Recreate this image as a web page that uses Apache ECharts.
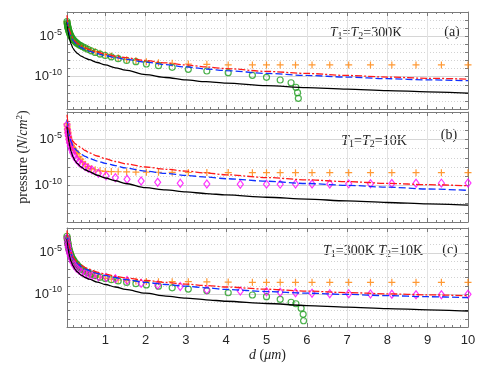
<!DOCTYPE html>
<html>
<head>
<meta charset="utf-8">
<script src="https://cdn.jsdelivr.net/npm/echarts@6/dist/echarts.min.js"></script>
<style>
  html, body { margin: 0; background: #fff; }
  #main { width: 491px; height: 366px; }
</style>
</head>
<body>
<div id="main"></div>
<script>
// separations d (um) for the curves and for the markers
var dLine = [0.05, 0.06, 0.07, 0.08, 0.1, 0.12, 0.15, 0.2, 0.25, 0.3, 0.4, 0.5, 0.6, 0.8, 1, 1.25, 1.5, 2, 2.5, 3, 3.5, 4, 5, 6, 7, 8, 9, 10];
var dMark = [0.05, 0.055, 0.06, 0.065, 0.07, 0.075, 0.08, 0.09, 0.1, 0.11, 0.12, 0.13, 0.145, 0.16, 0.18, 0.2, 0.22, 0.25, 0.28, 0.31,
  0.35, 0.39, 0.44, 0.5, 0.57, 0.65, 0.75, 0.87, 1.0, 1.15, 1.32, 1.53, 1.76, 2.02, 2.32, 2.66, 3.06, 3.52, 4.05, 4.65,
  5.0, 5.34, 5.72, 6.13, 6.57, 7.04, 7.58, 8.11, 8.71, 9.34, 10.0];
var dCircleA = dMark.slice(0, 42).concat([5.61, 5.73, 5.77, 5.79]);
var dCircleC = dMark.slice(0, 42).concat([5.61, 5.73, 5.86, 5.91, 5.92]);
var dDia = [0.05, 0.06, 0.07, 0.08, 0.095, 0.11, 0.13, 0.16, 0.19, 0.23, 0.28, 0.34, 0.41, 0.5, 0.58, 0.67, 0.83, 1.02, 1.25, 1.54,
  1.89, 2.30, 2.86, 3.52, 4.35, 5.0, 5.34, 5.72, 6.13, 6.57, 7.04, 7.58, 8.11, 8.71, 9.34, 10.0];

// log10 of pressure (N/cm^2)
// (a) T1=T2=300K
var aBlack = [-3.2, -3.7, -4.1, -4.45, -5.0, -5.45, -5.95, -6.5, -6.85, -7.1, -7.45, -7.7, -7.9, -8.25, -8.55, -8.9, -9.2, -9.75, -10.1, -10.4, -10.62, -10.8, -11.1, -11.35, -11.55, -11.72, -11.88, -12.03];
var aBlue = [-2.9, -3.2, -3.5, -3.8, -4.3, -4.65, -5.05, -5.5, -5.8, -6.05, -6.4, -6.65, -6.85, -7.15, -7.4, -7.65, -7.85, -8.2, -8.52, -8.8, -9.05, -9.25, -9.6, -9.85, -10.05, -10.25, -10.4, -10.5];
var aRed = [-2.4, -2.9, -3.3, -3.6, -4.05, -4.4, -4.8, -5.25, -5.6, -5.85, -6.2, -6.45, -6.65, -6.95, -7.2, -7.45, -7.65, -8.0, -8.3, -8.55, -8.8, -9.0, -9.35, -9.6, -9.85, -10.05, -10.2, -10.3];
var aPlus = [-3.2, -3.4, -3.55, -3.7, -3.85, -3.95, -4.05, -4.25, -4.4, -4.55, -4.7, -4.8, -4.95, -5.1, -5.25, -5.4, -5.5, -5.65, -5.8, -5.9,
  -6.05, -6.15, -6.3, -6.45, -6.6, -6.75, -6.9, -7.1, -7.3, -7.45, -7.65, -7.9, -8.0, -8.15, -8.27, -8.34, -8.43, -8.47, -8.55, -8.55,
  -8.55, -8.55, -8.55, -8.55, -8.55, -8.55, -8.55, -8.55, -8.55, -8.55, -8.55];
var aCircle = [-3.2, -3.4, -3.55, -3.7, -3.85, -3.95, -4.05, -4.25, -4.4, -4.55, -4.7, -4.8, -4.95, -5.1, -5.25, -5.4, -5.5, -5.65, -5.8, -5.9,
  -6.05, -6.15, -6.3, -6.45, -6.62, -6.8, -7.0, -7.2, -7.38, -7.55, -7.77, -8.0, -8.15, -8.43, -8.64, -8.84, -9.09, -9.3, -9.51, -9.83,
  -10.08, -10.41, -10.75, -11.31, -11.98, -12.68];

// (b) T1=T2=10K
var bBlack = [-3.6, -4.0, -4.4, -4.75, -5.3, -5.75, -6.3, -6.9, -7.3, -7.6, -8.0, -8.3, -8.5, -8.9, -9.2, -9.5, -9.8, -10.25, -10.5, -10.72, -10.9, -11.05, -11.3, -11.5, -11.7, -11.87, -12.02, -12.15];
var bBlue = [-2.8, -3.2, -3.55, -3.85, -4.35, -4.75, -5.2, -5.7, -6.0, -6.25, -6.6, -6.85, -7.05, -7.35, -7.6, -7.85, -8.1, -8.45, -8.7, -8.92, -9.1, -9.28, -9.55, -9.8, -10.0, -10.2, -10.4, -10.55];
var bRed = [-2.3, -2.7, -3.1, -3.4, -3.9, -4.3, -4.8, -5.2, -5.45, -5.6, -5.9, -6.2, -6.45, -6.8, -7.1, -7.4, -7.65, -8.0, -8.25, -8.45, -8.65, -8.85, -9.15, -9.4, -9.6, -9.78, -9.93, -10.05];
var bPlus = [-3.3, -3.55, -3.75, -3.95, -4.1, -4.25, -4.4, -4.65, -4.85, -5.05, -5.2, -5.35, -5.5, -5.65, -5.8, -5.9, -6.05, -6.2, -6.4, -6.55,
  -6.9, -7.15, -7.45, -7.7, -7.95, -8.15, -8.3, -8.42, -8.48, -8.5, -8.52, -8.53, -8.55, -8.56, -8.57, -8.58, -8.6, -8.6, -8.61, -8.62,
  -8.62, -8.62, -8.62, -8.62, -8.62, -8.62, -8.62, -8.62, -8.62, -8.62, -8.62];
var bDia = [-3.4, -3.9, -4.3, -4.6, -5.0, -5.35, -5.7, -6.1, -6.45, -6.8, -7.15, -7.45, -7.7, -7.95, -8.15, -8.33, -8.69, -8.95, -9.17, -9.34,
  -9.53, -9.67, -9.78, -9.86, -9.89, -9.87, -9.87, -9.86, -9.86, -9.85, -9.84, -9.82, -9.8, -9.78, -9.76, -9.75];

// (c) T1=300K T2=10K
var cBlack = [-3.3, -3.8, -4.2, -4.55, -5.1, -5.55, -6.05, -6.6, -7.0, -7.3, -7.7, -8.0, -8.2, -8.55, -8.85, -9.15, -9.45, -9.9, -10.25, -10.5, -10.7, -10.88, -11.15, -11.4, -11.6, -11.77, -11.92, -12.06];
var cBlue = [-2.8, -3.15, -3.5, -3.8, -4.3, -4.7, -5.15, -5.65, -6.0, -6.25, -6.65, -6.95, -7.15, -7.5, -7.75, -8.0, -8.25, -8.6, -8.85, -9.05, -9.25, -9.45, -9.7, -9.9, -10.05, -10.2, -10.33, -10.45];
var cRed = [-2.3, -2.8, -3.2, -3.55, -4.1, -4.5, -5.0, -5.5, -5.85, -6.1, -6.5, -6.8, -7.0, -7.35, -7.6, -7.85, -8.05, -8.35, -8.6, -8.8, -8.98, -9.15, -9.42, -9.65, -9.83, -9.98, -10.1, -10.21];
var cPlus = [-3.0, -3.25, -3.45, -3.65, -3.8, -3.95, -4.1, -4.35, -4.55, -4.75, -4.9, -5.05, -5.25, -5.45, -5.65, -5.8, -5.95, -6.15, -6.35, -6.5,
  -6.7, -6.85, -7.05, -7.25, -7.45, -7.6, -7.8, -7.95, -8.1, -8.2, -8.3, -8.38, -8.45, -8.48, -8.51, -8.5, -8.5, -8.52, -8.55, -8.58,
  -8.58, -8.58, -8.58, -8.58, -8.58, -8.58, -8.58, -8.58, -8.58, -8.58, -8.58];
var cCircle = [-3.0, -3.25, -3.45, -3.65, -3.8, -3.95, -4.1, -4.35, -4.55, -4.75, -4.9, -5.05, -5.25, -5.45, -5.65, -5.8, -5.95, -6.15, -6.35, -6.5,
  -6.7, -6.85, -7.05, -7.25, -7.42, -7.58, -7.78, -7.97, -8.12, -8.27, -8.42, -8.6, -8.75, -8.9, -9.05, -9.25, -9.4, -9.6, -9.85, -10.12,
  -10.33, -10.64, -11.0, -11.18, -11.73, -12.46, -13.24];
var cDia = [-3.2, -3.7, -4.05, -4.35, -4.75, -5.05, -5.4, -5.8, -6.15, -6.5, -6.85, -7.1, -7.35, -7.55, -7.7, -7.8, -7.9, -8.0, -8.15, -8.35,
  -8.7, -8.9, -9.1, -9.5, -9.65, -9.72, -9.78, -9.84, -9.9, -9.96, -9.98, -10.0, -10.04, -10.08, -10.09, -10.04];

var yTicksShown = [-5, -10];
var panelText = ['{i|T}{s|1}={i|T}{s|2}=300K', '{i|T}{s|1}={i|T}{s|2}=10K', '{i|T}{s|1}=300K {i|T}{s|2}=10K'];
var panelTag = ['(a)', '(b)', '(c)'];

var AX = '#7a7a7a';
var SANS = 'Liberation Sans';
var SERIF = 'Liberation Serif';

var grids = [
  { left: 67, width: 401, top: 12, height: 97 },
  { left: 67, width: 401, top: 112, height: 110 },
  { left: 67, width: 401, top: 228, height: 99 }
];

function zip(xs, ys) {
  return xs.map(function (x, i) { return [x, ys[i]]; });
}

var xAxes = [], yAxes = [], series = [];
// solid major grid only at the labelled decades (ticks -14..-2)
var majorColors = [];
for (var k = -14; k <= -2; k++) {
  majorColors.push(yTicksShown.indexOf(k) >= 0 ? '#d6d6d6' : 'rgba(0,0,0,0)');
}

grids.forEach(function (g, i) {
  ['bottom', 'top'].forEach(function (pos) {
    xAxes.push({
      type: 'value', gridIndex: i, position: pos, min: 0.05, max: 10, splitNumber: 10,
      axisLine: { lineStyle: { color: AX, width: 1 } },
      axisTick: { inside: true, length: 4, lineStyle: { color: AX } },
      minorTick: { show: true, splitNumber: 5, length: 2, lineStyle: { color: AX } },
      splitLine: { show: pos === 'bottom', lineStyle: { color: '#e2e2e2', width: 1 } },
      axisLabel: {
        show: pos === 'bottom' && i === 2, showMinLabel: false,
        fontFamily: SANS, fontSize: 13, color: '#262626', margin: 7
      },
      name: pos === 'bottom' && i === 2 ? '{i|d} ({i|μm})' : '',
      nameLocation: 'middle', nameGap: 21,
      nameTextStyle: {
        fontFamily: SERIF, fontSize: 14, color: '#262626',
        rich: { i: { fontFamily: SERIF, fontSize: 14, fontStyle: 'italic', color: '#262626' } }
      }
    });
  });
  ['left', 'right'].forEach(function (pos) {
    yAxes.push({
      type: 'value', gridIndex: i, position: pos, min: -14, max: -2, interval: 1,
      axisLine: { lineStyle: { color: AX, width: 1 } },
      axisTick: { inside: true, length: 3, lineStyle: { color: AX } },
      splitLine: pos === 'left'
        ? { show: true, lineStyle: { color: '#d2d2d2', type: [1, 2], width: 1 } }
        : { show: true, lineStyle: { color: majorColors, width: 1 } },
      axisLabel: {
        show: pos === 'left', margin: 5, fontFamily: SANS, fontSize: 13, color: '#262626',
        formatter: function (v) {
          return yTicksShown.indexOf(v) >= 0 ? '10{sup|' + v + '}' : '';
        },
        rich: { sup: { fontFamily: SANS, fontSize: 9, color: '#262626', padding: [0, 0, 8, 0] } }
      }
    });
  });
});

function curve(i, ys, color, type) {
  return {
    type: 'line', xAxisIndex: 2 * i, yAxisIndex: 2 * i, data: zip(dLine, ys),
    showSymbol: false, smooth: 0.3, smoothMonotone: 'x', silent: true,
    lineStyle: { color: color, width: 1.3, type: type }
  };
}
function marks(i, xs, ys, symbol, size, color) {
  return {
    type: 'scatter', xAxisIndex: 2 * i, yAxisIndex: 2 * i, data: zip(xs, ys),
    symbol: symbol, symbolSize: size, silent: true,
    itemStyle: { color: 'rgba(0,0,0,0)', borderColor: color, borderWidth: 1.2 }
  };
}

var PLUS = 'path://M0,5L10,5M5,0L5,10';
var ORANGE = '#ff8000', GREEN = '#1f9e1f', MAGENTA = '#ff00ff';
var panels = [
  { black: aBlack, blue: aBlue, red: aRed, plus: aPlus, circ: [dCircleA, aCircle] },
  { black: bBlack, blue: bBlue, red: bRed, plus: bPlus, dia: bDia },
  { black: cBlack, blue: cBlue, red: cRed, plus: cPlus, circ: [dCircleC, cCircle], dia: cDia }
];
panels.forEach(function (p, i) {
  series.push(curve(i, p.black, '#000000', 'solid'));
  series.push(curve(i, p.blue, '#1030ff', [7, 3]));
  series.push(curve(i, p.red, '#ff1a1a', [7, 2, 2, 2]));
  series.push(marks(i, dMark, p.plus, PLUS, 7, ORANGE));
  if (p.circ) series.push(marks(i, p.circ[0], p.circ[1], 'circle', 6, GREEN));
  if (p.dia) series.push(marks(i, dDia, p.dia, 'diamond', [6, 8], MAGENTA));
});

var textRich = {
  i: { fontFamily: SERIF, fontSize: 14, fontStyle: 'italic', fill: '#262626' },
  s: { fontFamily: SERIF, fontSize: 10, fill: '#262626', padding: [6, 0, 0, 0] }
};
var textPos = [[366, 33, 452, 32], [374, 141, 449, 135], [373, 251, 450, 250]];
var graphic = [];
textPos.forEach(function (t, i) {
  graphic.push({
    type: 'text', x: t[0], y: t[1], silent: true,
    style: { text: panelText[i], rich: textRich, fontFamily: SERIF, fontSize: 14, fill: '#262626', align: 'center', verticalAlign: 'middle' }
  });
  graphic.push({
    type: 'text', x: t[2], y: t[3], silent: true,
    style: { text: panelTag[i], fontFamily: SERIF, fontSize: 14, fill: '#262626', align: 'center', verticalAlign: 'middle' }
  });
});
graphic.push({
  type: 'text', x: 23, y: 157, rotation: Math.PI / 2, silent: true,
  style: {
    text: 'pressure ({i|N}/{i|cm}{p|2})', fontFamily: SERIF, fontSize: 14, fill: '#262626',
    align: 'center', verticalAlign: 'middle',
    rich: {
      i: { fontFamily: SERIF, fontSize: 14, fontStyle: 'italic', fill: '#262626' },
      p: { fontFamily: SERIF, fontSize: 9, fill: '#262626', padding: [0, 0, 7, 0] }
    }
  }
});

var myChart = echarts.init(document.getElementById('main'), null, { renderer: 'canvas' });
myChart.setOption({
  animation: false,
  backgroundColor: '#ffffff',
  grid: grids,
  xAxis: xAxes,
  yAxis: yAxes,
  series: series,
  graphic: graphic
});
</script>
</body>
</html>
